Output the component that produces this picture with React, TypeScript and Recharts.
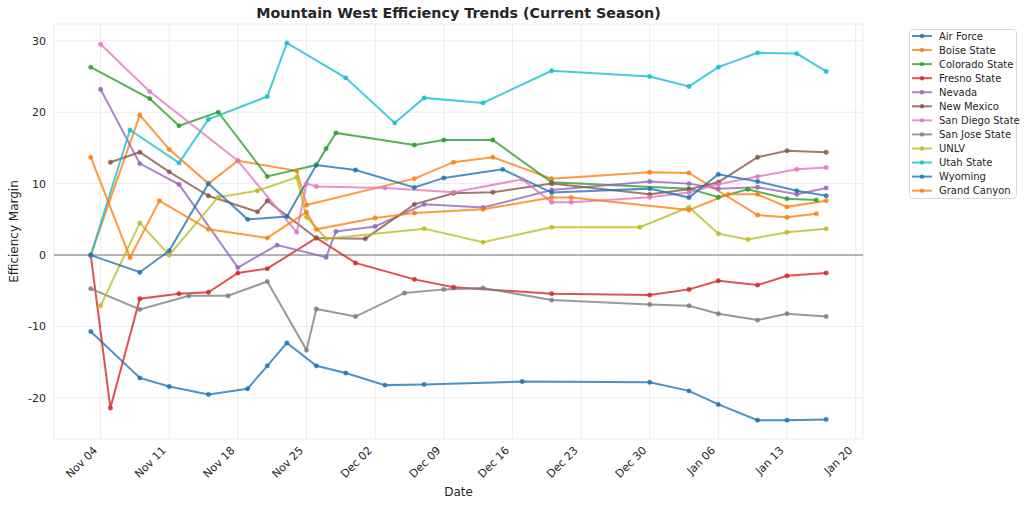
import React from 'react';
import { LineChart, Line, XAxis, YAxis, CartesianGrid, ReferenceLine, ReferenceArea } from 'recharts';

const MONTHS = ['Jan', 'Feb', 'Mar', 'Apr', 'May', 'Jun', 'Jul', 'Aug', 'Sep', 'Oct', 'Nov', 'Dec'];

const teamNames = ['Air Force', 'Boise State', 'Colorado State', 'Fresno State', 'Nevada', 'New Mexico', 'San Diego State', 'San Jose State', 'UNLV', 'Utah State', 'Wyoming', 'Grand Canyon'];
const teamColors = ['#1f77b4', '#ff7f0e', '#2ca02c', '#d62728', '#9467bd', '#8c564b', '#e377c2', '#7f7f7f', '#bcbd22', '#17becf', '#1f77b4', '#ff7f0e'];

const airForceDates = ['11-03', '11-08', '11-11', '11-15', '11-19', '11-21', '11-23', '11-26', '11-29', '12-03', '12-07', '12-17', '12-30', '01-03', '01-06', '01-10', '01-13', '01-17'];
const airForceValues = [-10.7, -17.2, -18.4, -19.5, -18.7, -15.5, -12.3, -15.5, -16.5, -18.2, -18.1, -17.7, -17.8, -19.0, -20.9, -23.1, -23.1, -23.0];

const boiseDates = ['11-03', '11-08', '11-11', '11-15', '11-18', '11-24', '11-25', '12-06', '12-10', '12-14', '12-20', '12-30', '01-03', '01-10', '01-13', '01-16'];
const boiseValues = [0, 19.6, 14.8, 10.0, 13.2, 11.8, 7.0, 10.7, 13.0, 13.7, 10.7, 11.6, 11.5, 5.6, 5.3, 5.8];

const coloradoDates = ['11-03', '11-09', '11-12', '11-16', '11-21', '11-26', '11-27', '11-28', '12-06', '12-09', '12-14', '12-20', '01-03', '01-06', '01-09', '01-13', '01-16'];
const coloradoValues = [26.3, 21.9, 18.1, 20.0, 11.0, 12.6, 14.9, 17.1, 15.4, 16.1, 16.1, 10.2, 9.3, 8.1, 9.2, 7.9, 7.7];

const fresnoDates = ['11-03', '11-05', '11-08', '11-12', '11-15', '11-18', '11-21', '11-26', '11-30', '12-06', '12-10', '12-20', '12-30', '01-03', '01-06', '01-10', '01-13', '01-17'];
const fresnoValues = [0, -21.4, -6.1, -5.4, -5.2, -2.5, -1.9, 2.4, -1.1, -3.4, -4.5, -5.4, -5.6, -4.8, -3.6, -4.2, -2.9, -2.5];

const nevadaDates = ['11-04', '11-08', '11-12', '11-18', '11-22', '11-27', '11-28', '12-02', '12-07', '12-13', '12-20', '12-30', '01-03', '01-06', '01-10', '01-14', '01-17'];
const nevadaValues = [23.2, 12.8, 9.9, -1.75, 1.4, -0.3, 3.3, 4.0, 7.1, 6.65, 9.1, 10.3, 10.0, 9.3, 9.5, 8.5, 9.4];

const newMexicoDates = ['11-05', '11-08', '11-11', '11-15', '11-20', '11-21', '11-26', '12-01', '12-06', '12-10', '12-14', '12-20', '12-30', '01-03', '01-06', '01-10', '01-13', '01-17'];
const newMexicoValues = [13.0, 14.4, 11.65, 8.3, 6.05, 7.6, 2.4, 2.3, 7.1, 8.65, 8.8, 10.0, 8.5, 9.2, 10.2, 13.7, 14.6, 14.4];

const sanDiegoDates = ['11-04', '11-09', '11-18', '11-24', '11-25', '11-26', '12-03', '12-10', '12-17', '12-20', '12-22', '12-30', '01-03', '01-06', '01-10', '01-14', '01-17'];
const sanDiegoValues = [29.5, 22.9, 13.2, 3.2, 10.0, 9.6, 9.4, 8.8, 10.6, 7.4, 7.4, 8.1, 8.75, 9.9, 11.0, 12.0, 12.25];

const sanJoseDates = ['11-03', '11-08', '11-13', '11-17', '11-21', '11-25', '11-26', '11-30', '12-05', '12-09', '12-13', '12-20', '12-30', '01-03', '01-06', '01-10', '01-13', '01-17'];
const sanJoseValues = [-4.7, -7.6, -5.7, -5.7, -3.7, -13.3, -7.55, -8.6, -5.3, -4.8, -4.6, -6.3, -6.9, -7.1, -8.2, -9.1, -8.2, -8.6];

const unlvDates = ['11-04', '11-08', '11-11', '11-16', '11-20', '11-24', '11-25', '11-27', '12-07', '12-13', '12-20', '12-29', '01-03', '01-06', '01-09', '01-13', '01-17'];
const unlvValues = [-7.1, 4.5, 0, 8.1, 9.0, 10.9, 5.3, 2.3, 3.7, 1.8, 3.9, 3.9, 6.7, 3.0, 2.2, 3.2, 3.7];

const utahStateDates = ['11-03', '11-07', '11-12', '11-15', '11-21', '11-23', '11-29', '12-04', '12-07', '12-13', '12-20', '12-30', '01-03', '01-06', '01-10', '01-14', '01-17'];
const utahStateValues = [0, 17.5, 12.9, 19.0, 22.2, 29.7, 24.8, 18.5, 22.0, 21.3, 25.8, 25.0, 23.6, 26.3, 28.3, 28.2, 25.7];

const wyomingDates = ['11-03', '11-08', '11-11', '11-15', '11-19', '11-23', '11-26', '11-30', '12-06', '12-09', '12-15', '12-20', '12-30', '01-03', '01-06', '01-10', '01-14', '01-17'];
const wyomingValues = [0, -2.4, 0.6, 10.0, 5.0, 5.4, 12.6, 11.9, 9.45, 10.8, 12.0, 8.75, 9.3, 8.05, 11.3, 10.3, 9.0, 8.3];

const grandCanyonDates = ['11-03', '11-07', '11-10', '11-15', '11-21', '11-25', '11-26', '12-02', '12-06', '12-13', '12-20', '12-22', '01-03', '01-07', '01-10', '01-13', '01-17'];
const grandCanyonValues = [13.7, -0.35, 7.6, 3.6, 2.4, 6.0, 3.6, 5.2, 5.9, 6.4, 8.05, 8.05, 6.3, 8.5, 8.5, 6.75, 7.6];

const xTickDates = ['11-04', '11-11', '11-18', '11-25', '12-02', '12-09', '12-16', '12-23', '12-30', '01-06', '01-13', '01-20'];
const yTicks = [-20, -10, 0, 10, 20, 30];

const toTs = (md: string) => {
  const [m, d] = md.split('-').map(Number);
  return Date.UTC(m >= 8 ? 2024 : 2025, m - 1, d);
};
const fmt = (t: number) => {
  const dt = new Date(t);
  return `${MONTHS[dt.getUTCMonth()]} ${String(dt.getUTCDate()).padStart(2, '0')}`;
};

const seriesDates = [airForceDates, boiseDates, coloradoDates, fresnoDates, nevadaDates, newMexicoDates, sanDiegoDates, sanJoseDates, unlvDates, utahStateDates, wyomingDates, grandCanyonDates];
const seriesValues = [airForceValues, boiseValues, coloradoValues, fresnoValues, nevadaValues, newMexicoValues, sanDiegoValues, sanJoseValues, unlvValues, utahStateValues, wyomingValues, grandCanyonValues];

const series = teamNames.map((name, i) => ({
  name,
  color: teamColors[i],
  data: seriesDates[i].map((d, j) => ({ t: toTs(d), v: seriesValues[i][j] })),
}));

const allT = series.flatMap((s) => s.data.map((p) => p.t));
const allV = series.flatMap((s) => s.data.map((p) => p.v));
const tMin = Math.min(...allT), tMax = Math.max(...allT);
const vMin = Math.min(...allV), vMax = Math.max(...allV);
const xDomain = [tMin - (tMax - tMin) * 0.05, tMax + (tMax - tMin) * 0.05];
const yDomain = [vMin - (vMax - vMin) * 0.05, vMax + (vMax - vMin) * 0.05];
const xTicks = xTickDates.map(toTs);

const FONT = '"DejaVu Sans", sans-serif';
const TEXT = '#262626';

const XTick = (props: any) => {
  const { x, y, payload } = props;
  const ax = x - 2.5;
  const ay = y + 12;
  return (
    <text x={ax} y={ay} textAnchor="end" transform={`rotate(-45 ${ax} ${ay})`} fontSize={11} fill={TEXT} fontFamily={FONT}>
      {fmt(payload.value)}
    </text>
  );
};

export default function App() {
  return (
    <div style={{ position: 'absolute', left: 0, top: 0, width: 1024, height: 506, background: '#fff' }}>
      <LineChart width={1024} height={506} margin={{ top: 24, right: 161, bottom: 0, left: 0 }}>
        <CartesianGrid stroke="#ececec" strokeWidth={1} />
        <ReferenceArea fill="none" stroke="#d6d6d6" strokeWidth={1.2} fillOpacity={0} ifOverflow="visible" />
        <XAxis
          type="number"
          dataKey="t"
          domain={xDomain}
          ticks={xTicks}
          allowDataOverflow
          height={67}
          tickLine={false}
          axisLine={false}
          tickSize={0}
          tickMargin={0}
          interval={0}
          tick={<XTick />}
        />
        <YAxis
          type="number"
          dataKey="v"
          domain={yDomain}
          ticks={yTicks}
          allowDataOverflow
          width={54}
          tickLine={false}
          axisLine={false}
          tickSize={0}
          tickMargin={8}
          interval={0}
          tick={{ fontSize: 11, fill: TEXT, fontFamily: FONT }}
        />
        <ReferenceLine y={0} stroke="#8a8a8a" strokeWidth={1.5} strokeOpacity={0.8} />
        {series.map((s) => (
          <Line
            key={s.name}
            name={s.name}
            data={s.data}
            dataKey="v"
            type="linear"
            stroke={s.color}
            strokeWidth={2}
            strokeOpacity={0.8}
            dot={{ r: 2.2, fill: s.color, stroke: s.color, strokeWidth: 0.5, fillOpacity: 0.85, strokeOpacity: 0.85 }}
            activeDot={false}
            isAnimationActive={false}
          />
        ))}
      </LineChart>
      <svg width={1024} height={506} style={{ position: 'absolute', left: 0, top: 0, pointerEvents: 'none' }}>
        <text x={458.5} y={18} textAnchor="middle" fontSize={14.3} fontWeight="bold" fill={TEXT} fontFamily={FONT}>
          Mountain West Efficiency Trends (Current Season)
        </text>
        <text x={458.5} y={496} textAnchor="middle" fontSize={12} fill={TEXT} fontFamily={FONT}>
          Date
        </text>
        <text x={18} y={231.5} textAnchor="middle" transform="rotate(-90 18 231.5)" fontSize={12} fill={TEXT} fontFamily={FONT}>
          Efficiency Margin
        </text>
        <rect x={909.5} y={29.5} width={107} height={169} rx={3} fill="#fff" fillOpacity={0.8} stroke="#d9d9d9" strokeWidth={1} />
        {series.map((s, i) => {
          const cy = 36 + i * 14.06;
          return (
            <g key={s.name}>
              <line x1={912} x2={932} y1={cy} y2={cy} stroke={s.color} strokeWidth={2} strokeOpacity={0.8} />
              <circle cx={922} cy={cy} r={2.2} fill={s.color} fillOpacity={0.85} />
              <text x={939} y={cy + 3.5} fontSize={10} fill={TEXT} fontFamily={FONT}>
                {s.name}
              </text>
            </g>
          );
        })}
      </svg>
    </div>
  );
}
